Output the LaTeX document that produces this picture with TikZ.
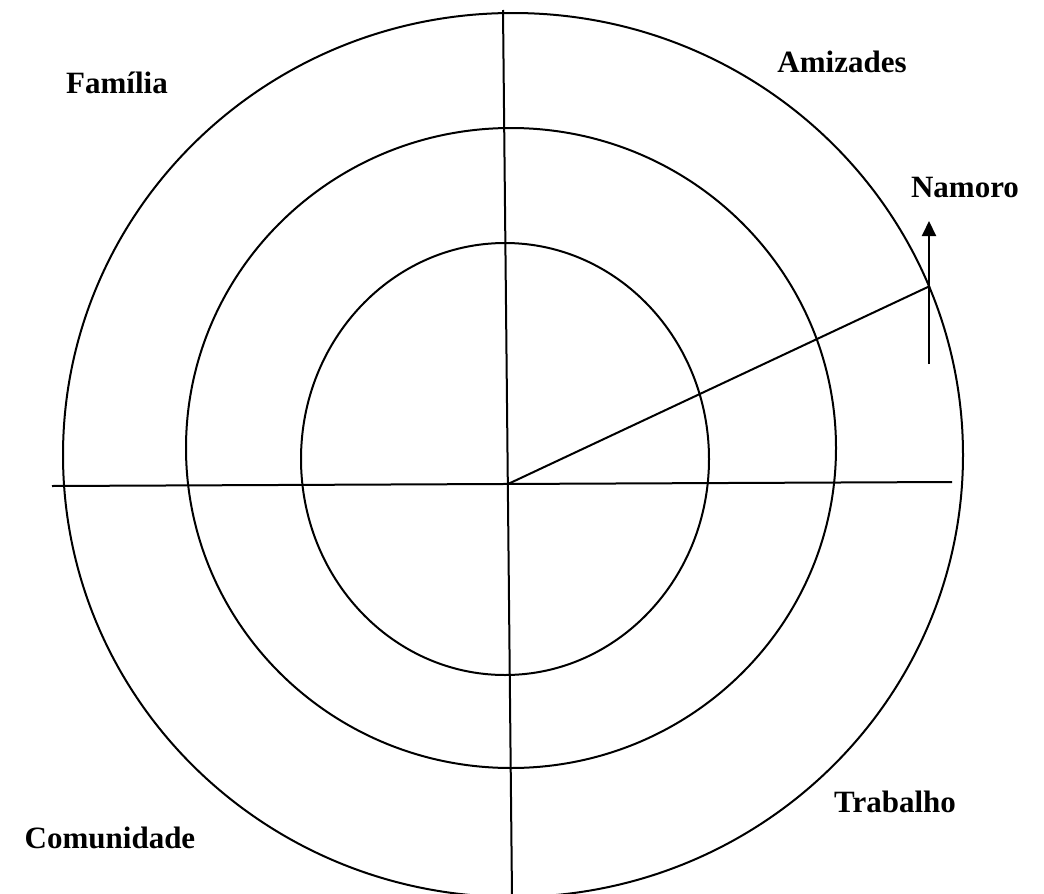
\documentclass[tikz,border=0pt]{standalone}
\usepackage{fontspec}
\setmainfont{Liberation Serif}
\usepackage{tikz}
\usetikzlibrary{arrows.meta, positioning, calc}
\tikzset{
  ring/.style={draw=black, line width=1pt},
  axis/.style={draw=black, line width=1pt},
  label/.style={font=\fontsize{15.5}{18}\selectfont\bfseries, inner sep=0pt},
  arrow/.style={-{Triangle[width=7pt, length=7.5pt]}, line width=1pt}
}
\begin{document}
\begin{tikzpicture}[x=0.5pt, y=-0.5pt]
  \useasboundingbox (0,0) rectangle (1044,894);
  % Rings
  \draw[ring] (513,455) ellipse [x radius=450, y radius=442]; % Outer
  \draw[ring] (511,448) ellipse [x radius=325, y radius=320]; % Middle
  \draw[ring] (505,459) ellipse [x radius=204, y radius=216]; % Inner

  % Axes
  \coordinate (west) at (52,486);
  \coordinate (east) at (952,482);
  \coordinate (north) at (503,10);
  \coordinate (south) at (512,896);
  \coordinate (origin) at (508,484);
  \draw[axis] (west) -- (east);
  \draw[axis] (north) -- (south);

  % Radius to the outer ring
  \coordinate (rim) at (930,286);
  \draw[axis] (origin) -- (rim);
  \coordinate (tail) at (929,364);
  \coordinate (tip) at (929,221);
  \draw[arrow] (tail) -- (tip);

  % Labels
  \node[label] (familia) at (117,83) {Família};
  \node[label] (amizades) at (842,62) {Amizades};
  \node[label] (namoro) at (965,188) {Namoro};
  \node[label] (trabalho) at (895,802) {Trabalho};
  \node[label] (comunidade) at (110,838) {Comunidade};
\end{tikzpicture}
\end{document}
